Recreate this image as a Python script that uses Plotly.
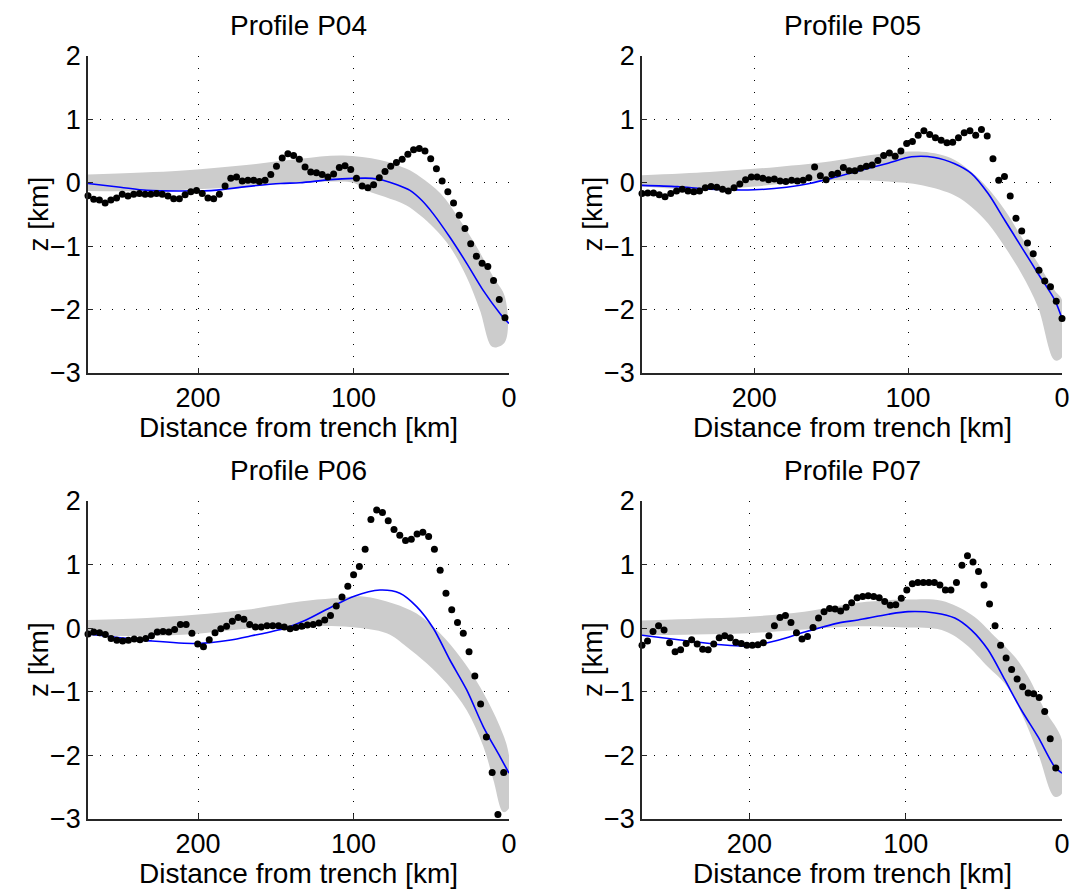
import numpy as np
import plotly.graph_objects as go

W, H = 1073, 895

# ---------------- data ----------------
titles = ["Profile P04", "Profile P05", "Profile P06", "Profile P07"]
x_tick_vals = [0, 100, 200]
y_tick_vals = [-3, -2, -1, 0, 1, 2]

# observed profile samples (distance of first / last sample, then z values)
p04_dist_span = (270.8, 2.6)
p04_z = [-0.205, -0.26, -0.27, -0.32, -0.27, -0.24, -0.18, -0.21, -0.18, -0.17,
         -0.18, -0.18, -0.17, -0.18, -0.21, -0.25, -0.25, -0.19, -0.14, -0.12,
         -0.17, -0.24, -0.25, -0.18, -0.05, 0.07, 0.09, 0.03, 0.04, 0.04,
         0.02, 0.04, 0.13, 0.26, 0.39, 0.46, 0.43, 0.37, 0.25, 0.17,
         0.16, 0.13, 0.09, 0.14, 0.24, 0.27, 0.21, 0.07, -0.05, -0.08,
         -0.03, 0.08, 0.18, 0.26, 0.32, 0.37, 0.45, 0.52, 0.54, 0.50,
         0.38, 0.22, 0.03, -0.14, -0.32, -0.51, -0.72, -0.96, -1.16, -1.27,
         -1.32, -1.54, -1.84, -2.13]

p05_dist_span = (272.9, 0.0)
p05_z = [-0.17, -0.16, -0.16, -0.19, -0.22, -0.17, -0.13, -0.10, -0.13, -0.14,
         -0.13, -0.08, -0.06, -0.07, -0.10, -0.13, -0.08, -0.02, 0.05, 0.09,
         0.09, 0.07, 0.05, 0.06, 0.03, 0.02, 0.04, 0.03, 0.04, 0.08,
         0.25, 0.11, 0.05, 0.13, 0.15, 0.24, 0.19, 0.19, 0.23, 0.26,
         0.28, 0.35, 0.43, 0.47, 0.42, 0.50, 0.62, 0.65, 0.75, 0.82,
         0.76, 0.71, 0.67, 0.63, 0.64, 0.71, 0.79, 0.82, 0.75, 0.84,
         0.74, 0.38, 0.04, 0.10, -0.21, -0.56, -0.76, -0.95, -1.12, -1.38,
         -1.55, -1.64, -1.87, -2.14]

p06_dist_span = (270.8, -0.3)
p06_z = [-0.09, -0.06, -0.07, -0.10, -0.16, -0.19, -0.20, -0.19, -0.17, -0.18,
         -0.16, -0.12, -0.06, -0.05, -0.06, -0.02, 0.06, 0.06, -0.08, -0.25,
         -0.29, -0.18, -0.07, -0.01, 0.03, 0.11, 0.17, 0.14, 0.06, 0.02,
         0.02, 0.04, 0.04, 0.04, 0.02, -0.01, 0.01, 0.03, 0.05, 0.06,
         0.08, 0.13, 0.20, 0.35, 0.49, 0.66, 0.84, 0.97, 1.24, 1.71,
         1.86, 1.82, 1.69, 1.55, 1.46, 1.38, 1.40, 1.48, 1.51, 1.44,
         1.24, 0.91, 0.55, 0.29, 0.09, -0.08, -0.37, -0.75, -1.19, -1.71,
         -2.27, -2.93, -2.27, -2.43]

p07_dist_span = (268.7, 4.0)
p07_z = [-0.27, -0.20, -0.05, 0.04, -0.03, -0.23, -0.37, -0.34, -0.24, -0.18,
         -0.25, -0.33, -0.34, -0.25, -0.15, -0.12, -0.15, -0.22, -0.24, -0.27,
         -0.27, -0.26, -0.23, -0.12, 0.04, 0.17, 0.20, 0.09, -0.07, -0.17,
         -0.13, 0.01, 0.16, 0.26, 0.31, 0.30, 0.27, 0.33, 0.40, 0.48,
         0.50, 0.51, 0.50, 0.48, 0.42, 0.36, 0.37, 0.47, 0.60, 0.70,
         0.72, 0.72, 0.72, 0.72, 0.68, 0.60, 0.60, 0.72, 0.99, 1.14,
         1.04, 0.89, 0.68, 0.38, 0.04, -0.27, -0.47, -0.65, -0.80, -0.92,
         -1.02, -1.03, -1.09, -1.31, -1.74, -2.20]

# best-fit model curves
p04_model_km = [270.8, 250, 233, 212, 190, 169, 147, 134.5, 115, 100, 88, 81, 72, 63.7, 56, 48.7, 38, 27.2, 16.5, 5.8, 0]
p04_model_z = [-0.01, -0.07, -0.12, -0.13, -0.12, -0.06, -0.01, 0.00, 0.05, 0.07, 0.07, 0.04, -0.03, -0.12, -0.28, -0.49, -0.86, -1.27, -1.70, -2.06, -2.22]
p05_model_km = [272.9, 250, 229, 200, 179, 164, 150, 134.6, 113, 97.8, 82.7, 69.7, 58.8, 48, 37.2, 26.4, 15.6, 4.7, 0]
p05_model_z = [-0.04, -0.06, -0.10, -0.11, -0.07, -0.01, 0.07, 0.17, 0.31, 0.41, 0.40, 0.30, 0.145, -0.17, -0.59, -1.01, -1.43, -1.85, -2.14]
p06_model_km = [270.8, 250, 230, 200, 180, 165.6, 144, 131.3, 113, 100, 83, 70.2, 59.4, 48.7, 38, 27.2, 16.5, 5.8, 0]
p06_model_z = [-0.09, -0.15, -0.20, -0.24, -0.19, -0.12, 0.0, 0.12, 0.35, 0.50, 0.60, 0.55, 0.34, 0.0, -0.50, -0.97, -1.55, -2.02, -2.28]
p07_model_km = [268.7, 239, 218, 200.8, 181.7, 164.6, 143.3, 130.5, 111, 98.4, 81.3, 68.6, 57.9, 47.3, 36.6, 25.9, 15.3, 4.7, 0]
p07_model_z = [-0.11, -0.20, -0.26, -0.28, -0.19, -0.06, 0.08, 0.13, 0.22, 0.26, 0.24, 0.16, -0.03, -0.34, -0.81, -1.29, -1.71, -2.18, -2.28]

# uncertainty envelope (upper and lower bounds)
p04_up_km = [270.8, 212, 169, 134.5, 106.7, 83, 65.9, 57, 44, 31.5, 20.8, 10, 2.6]
p04_up_z = [0.13, 0.19, 0.28, 0.38, 0.43, 0.36, 0.22, 0.09, -0.17, -0.59, -1.01, -1.49, -1.80]
p04_lo_km = [270.8, 233, 190, 147, 113, 100, 91.6, 80, 65.9, 48.7, 38, 27.2, 18.7, 10.5, 2.6]
p04_lo_z = [-0.13, -0.13, -0.09, -0.02, 0.02, 0.00, -0.12, -0.22, -0.36, -0.70, -1.01, -1.49, -2.01, -2.59, -2.51]

p05_up_km = [272.9, 229, 185, 150, 134.6, 113, 91.2, 80, 69.7, 58.8, 48, 37.2, 26.4, 15.6, 4.7, 0]
p05_up_z = [0.12, 0.17, 0.25, 0.34, 0.40, 0.47, 0.49, 0.45, 0.36, 0.17, -0.09, -0.43, -0.85, -1.27, -1.70, -1.85]
p05_lo_km = [272.9, 229, 200, 164, 134.6, 113, 91, 69.7, 58.8, 48, 37.2, 26.4, 15.6, 4.7, 0]
p05_lo_z = [-0.06, -0.11, -0.06, 0.03, 0.04, 0.02, -0.04, -0.20, -0.38, -0.64, -1.01, -1.43, -1.96, -2.80, -2.75]

p06_up_km = [270.8, 233, 202, 169, 134.5, 113, 93.8, 74.5, 59.4, 44.4, 31.5, 18.7, 5.8, 0]
p06_up_z = [0.13, 0.16, 0.21, 0.29, 0.42, 0.47, 0.50, 0.39, 0.23, -0.08, -0.45, -0.92, -1.55, -2.0]
p06_lo_km = [270.8, 233, 202, 169, 134.5, 102, 78.7, 65.9, 53, 40, 27.2, 16.5, 10, 3.7, 0]
p06_lo_z = [-0.12, -0.12, -0.09, -0.01, 0.03, 0.02, -0.08, -0.29, -0.55, -0.87, -1.29, -1.86, -2.39, -2.89, -2.83]

p07_up_km = [268.7, 235, 200.8, 165, 130.5, 111, 98.4, 77, 57.9, 43, 30.2, 21.7, 11, 0]
p07_up_z = [0.12, 0.15, 0.18, 0.26, 0.40, 0.44, 0.45, 0.43, 0.21, -0.13, -0.45, -0.76, -1.29, -1.76]
p07_lo_km = [268.7, 235, 200.8, 165, 130.5, 100.5, 77, 62.2, 47.3, 36.6, 25.9, 15.3, 4.7, 0]
p07_lo_z = [-0.11, -0.10, -0.08, -0.02, 0.03, 0.01, -0.03, -0.24, -0.61, -0.87, -1.34, -1.97, -2.65, -2.60]

x_axis_max = [270.8, 272.9, 270.8, 268.7]

panels = [
    (p04_dist_span, p04_z, p04_model_km, p04_model_z, p04_up_km, p04_up_z, p04_lo_km, p04_lo_z),
    (p05_dist_span, p05_z, p05_model_km, p05_model_z, p05_up_km, p05_up_z, p05_lo_km, p05_lo_z),
    (p06_dist_span, p06_z, p06_model_km, p06_model_z, p06_up_km, p06_up_z, p06_lo_km, p06_lo_z),
    (p07_dist_span, p07_z, p07_model_km, p07_model_z, p07_up_km, p07_up_z, p07_lo_km, p07_lo_z),
]

# ---------------- layout geometry (pixels) ----------------
col_x = [(88, 509), (642, 1062)]
row_y = [(56, 373), (501, 819)]

FONT = "Liberation Sans, Arial, Helvetica, sans-serif"
FS = 28
TICK_FS = 27
AX_COLOR = "#262626"

fig = go.Figure()
annotations = []

for i, (span, zs, mkm, mz, ukm, uz, lkm, lz) in enumerate(panels):
    r, c = divmod(i, 2)
    xa = "x" if i == 0 else f"x{i+1}"
    ya = "y" if i == 0 else f"y{i+1}"
    # envelope
    fig.add_trace(go.Scatter(
        x=list(ukm) + list(lkm)[::-1], y=list(uz) + list(lz)[::-1],
        fill="toself", fillcolor="#cccccc", mode="lines",
        line=dict(width=0, color="rgba(0,0,0,0)"), line_shape="spline",
        hoverinfo="skip", showlegend=False, xaxis=xa, yaxis=ya))
    # model
    fig.add_trace(go.Scatter(
        x=mkm, y=mz, mode="lines", line=dict(color="#0000ff", width=1.6, shape="spline", smoothing=0.8),
        showlegend=False, xaxis=xa, yaxis=ya))
    # observations
    xs = np.linspace(span[0], span[1], len(zs))
    fig.add_trace(go.Scatter(
        x=xs, y=zs, mode="markers", marker=dict(color="black", size=7),
        cliponaxis=False, showlegend=False, xaxis=xa, yaxis=ya))

    x0, x1 = col_x[c]
    y0, y1 = row_y[r]
    xdom = [x0 / W, x1 / W]
    ydom = [1 - y1 / H, 1 - y0 / H]
    common = dict(
        showgrid=True, gridcolor="black", gridwidth=1, griddash="1px,11px",
        showline=True, linecolor=AX_COLOR, linewidth=1.5,
        ticks="inside", ticklen=5, tickcolor=AX_COLOR, tickwidth=1,
        zeroline=False, tickfont=dict(family=FONT, size=TICK_FS, color="black"),
        automargin=False,
    )
    fig.layout[("xaxis" if i == 0 else f"xaxis{i+1}")] = dict(
        domain=xdom, anchor=ya, range=[x_axis_max[i], 0], tickvals=x_tick_vals,
        **common)
    fig.layout[("yaxis" if i == 0 else f"yaxis{i+1}")] = dict(
        domain=ydom, anchor=xa, range=[-3, 2], tickvals=y_tick_vals,
        ticksuffix=" ", **common)

    cx = (x0 + x1) / 2
    cy = (y0 + y1) / 2
    annotations.append(dict(text=titles[i], x=cx / W, y=1 - (y0 - 31) / H,
                            xref="paper", yref="paper", xanchor="center", yanchor="middle",
                            showarrow=False, font=dict(family=FONT, size=FS, color="black")))
    annotations.append(dict(text="Distance from trench [km]", x=cx / W, y=1 - (y1 + 54) / H,
                            xref="paper", yref="paper", xanchor="center", yanchor="middle",
                            showarrow=False, font=dict(family=FONT, size=FS, color="black")))
    annotations.append(dict(text="z [km]", x=(x0 - 50) / W, y=1 - cy / H, textangle=-90,
                            xref="paper", yref="paper", xanchor="center", yanchor="middle",
                            showarrow=False, font=dict(family=FONT, size=FS, color="black")))

fig.update_layout(
    width=W, height=H, margin=dict(l=0, r=0, t=0, b=0, pad=0, autoexpand=False),
    paper_bgcolor="white", plot_bgcolor="white",
    annotations=annotations, showlegend=False,
)

fig.write_html("out.html")
